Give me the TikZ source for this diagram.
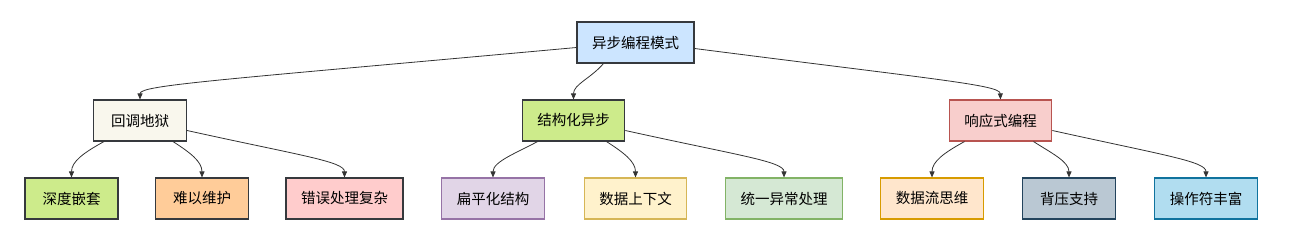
\documentclass[tikz,border=0pt]{standalone}
\usepackage{fontspec}
\setmainfont{Noto Sans CJK SC}
\usetikzlibrary{arrows.meta}
\definecolor{edgegray}{HTML}{333333}
\definecolor{darkline}{HTML}{36393D}
\definecolor{rootblue}{HTML}{CCE5FF}
\definecolor{paper}{HTML}{F9F7ED}
\definecolor{limegreen}{HTML}{CDEB8B}
\definecolor{rosefill}{HTML}{F8CECC}
\definecolor{roseline}{HTML}{B85450}
\definecolor{orangefill}{HTML}{FFCC99}
\definecolor{pinkfill}{HTML}{FFCCCC}
\definecolor{purplefill}{HTML}{E1D5E7}
\definecolor{purpleline}{HTML}{9673A6}
\definecolor{yellowfill}{HTML}{FFF2CC}
\definecolor{yellowline}{HTML}{D6B656}
\definecolor{greenfill}{HTML}{D5E8D4}
\definecolor{greenline}{HTML}{82B366}
\definecolor{peachfill}{HTML}{FFE6CC}
\definecolor{peachline}{HTML}{D79B00}
\definecolor{slatefill}{HTML}{BAC8D3}
\definecolor{slateline}{HTML}{23445D}
\definecolor{skyfill}{HTML}{B1DDF0}
\definecolor{skyline}{HTML}{10739E}

\begin{document}
\begin{tikzpicture}[x=1pt,y=-1pt,
  box/.style={draw=darkline,line width=1.1pt,minimum height=41pt,minimum width=93pt,
    inner xsep=15pt,font=\fontsize{14.5}{17}\selectfont},
  edge/.style={draw=edgegray,line width=0.8pt,-{Triangle[length=6pt,width=5pt]}}]
\useasboundingbox (0,0) rectangle (1290,248);
% top level
\node[box,fill=rootblue] (root) at (635.5,42.5) {异步编程模式};
% second level
\node[box,fill=paper] (cb) at (140,120.5) {回调地狱};
\node[box,fill=limegreen] (sa) at (573.5,120.5) {结构化异步};
\node[box,fill=rosefill,draw=roseline] (rx) at (1000.5,120.5) {响应式编程};
% third level
\node[box,fill=limegreen] (deep) at (71.5,198.5) {深度嵌套};
\node[box,fill=orangefill] (hard) at (202,198.5) {难以维护};
\node[box,fill=pinkfill] (err) at (344.5,198.5) {错误处理复杂};
\node[box,fill=purplefill,draw=purpleline] (flat) at (493,198.5) {扁平化结构};
\node[box,fill=yellowfill,draw=yellowline] (ctx) at (635.5,198.5) {数据上下文};
\node[box,fill=greenfill,draw=greenline] (exc) at (784,198.5) {统一异常处理};
\node[box,fill=peachfill,draw=peachline] (flow) at (932,198.5) {数据流思维};
\node[box,fill=slatefill,draw=slateline] (bp) at (1069,198.5) {背压支持};
\node[box,fill=skyfill,draw=skyline] (ops) at (1206,198.5) {操作符丰富};
% edges
\draw[edge] ([yshift=-5pt]root.west) .. controls (220,80) and (140,85) .. (cb.north);
\draw[edge] ([xshift=-32pt]root.south) .. controls +(-13,15) and +(0,-15) .. (sa.north);
\draw[edge] ([yshift=-6pt]root.east) .. controls (940,80) and (1000,85) .. (rx.north);
\foreach \p/\a/\b/\c in {cb/deep/hard/err,sa/flat/ctx/exc,rx/flow/bp/ops}{
  \draw[edge] ([xshift=-36pt]\p.south) .. controls +(-20,11) and +(0,-16) .. (\a.north);
  \draw[edge] ([xshift=33pt]\p.south) .. controls +(17,11) and +(0,-16) .. (\b.north);
  \draw[edge] ([yshift=-10pt]\p.east) .. controls +(113,25) and +(0,-16) .. (\c.north);
}
\end{tikzpicture}
\end{document}
